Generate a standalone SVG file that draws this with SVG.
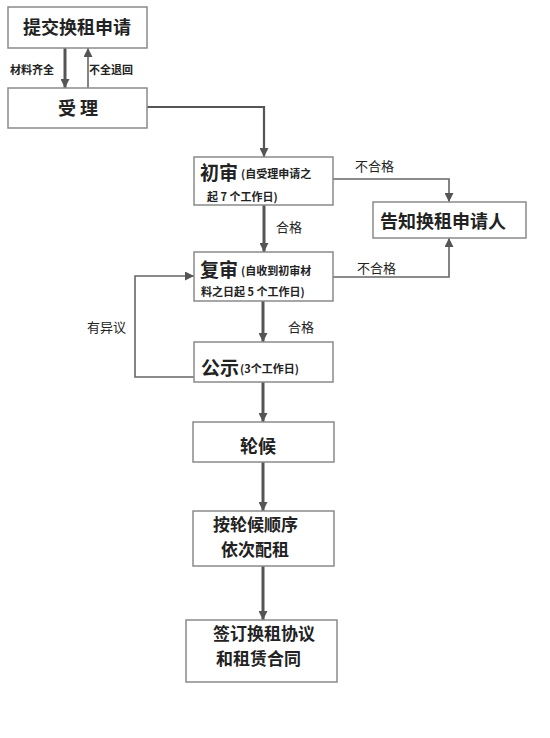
<svg xmlns="http://www.w3.org/2000/svg" width="550" height="738" viewBox="0 0 550 738">
<style>
.box{fill:#fff;stroke:#8a8a8a;stroke-width:1.5}
.t{font-family:"Noto Sans CJK SC",sans-serif;font-weight:bold;fill:#222}
.big{font-size:18px}
.two{font-size:17px}
.sm{font-size:11px}
.lab{font-family:"Noto Sans CJK SC",sans-serif;fill:#222;font-size:13px}
.thick{fill:none;stroke:#555;stroke-width:3}
.thin{fill:none;stroke:#666;stroke-width:1.6}
</style>
<defs>
<marker id="ah" viewBox="0 0 10 10" refX="10" refY="5" markerWidth="9" markerHeight="9" markerUnits="userSpaceOnUse" orient="auto">
<path d="M0,0 L10,5 L0,10 z" fill="#555"/>
</marker>
</defs>
<rect width="550" height="738" fill="#fff"/>
<g id="connectors">
<line class="thick" x1="65" y1="48" x2="65" y2="88" marker-end="url(#ah)"/>
<line class="thin" x1="88" y1="88" x2="88" y2="48" marker-end="url(#ah)"/>
<polyline class="thick" style="stroke-width:2.2" points="147,107 264,107 264,157" marker-end="url(#ah)"/>
<polyline class="thin" points="333,179 449,179 449,202" marker-end="url(#ah)"/>
<line class="thick" x1="264" y1="205" x2="264" y2="252" marker-end="url(#ah)"/>
<polyline class="thin" points="333,277 449,277 449,238" marker-end="url(#ah)"/>
<line class="thick" x1="263" y1="301" x2="263" y2="342" marker-end="url(#ah)"/>
<polyline class="thin" points="194,377 135,377 135,276 194,276" marker-end="url(#ah)"/>
<line class="thick" x1="263" y1="382" x2="263" y2="422" marker-end="url(#ah)"/>
<line class="thick" x1="263" y1="462" x2="263" y2="511" marker-end="url(#ah)"/>
<line class="thick" x1="263" y1="566" x2="263" y2="620" marker-end="url(#ah)"/>
<text class="lab" style="font-size:11px;font-weight:bold" x="10" y="74">材料齐全</text>
<text class="lab" style="font-size:11px;font-weight:bold" x="89" y="74">不全退回</text>
<text class="lab" x="355" y="171">不合格</text>
<text class="lab" x="276" y="232">合格</text>
<text class="lab" x="357" y="273">不合格</text>
<text class="lab" x="288" y="332">合格</text>
<text class="lab" x="87" y="332">有异议</text>
</g>
<g id="n1">
<rect class="box" x="8" y="7" width="139" height="41"/>
<text class="t big" x="77" y="34" text-anchor="middle">提交换租申请</text>
</g>
<g id="n2">
<rect class="box" x="8" y="88" width="139" height="40"/>
<text class="t big" x="78" y="115" text-anchor="middle">受 理</text>
</g>
<g id="n3">
<rect class="box" x="194" y="157" width="139" height="48"/>
<text class="t" style="font-size:19px" x="200" y="180">初审</text>
<text class="t sm" x="241" y="178">(自受理申请之</text>
<text class="t sm" x="207" y="201">起 7 个工作日)</text>
</g>
<g id="n4">
<rect class="box" x="373" y="202" width="153" height="36"/>
<text class="t big" x="380" y="228">告知换租申请人</text>
</g>
<g id="n5">
<rect class="box" x="194" y="252" width="139" height="49"/>
<text class="t" style="font-size:19px" x="200" y="277">复审</text>
<text class="t sm" x="241" y="275">(自收到初审材</text>
<text class="t sm" x="201" y="296">料之日起 5 个工作日)</text>
</g>
<g id="n6">
<rect class="box" x="194" y="342" width="139" height="40"/>
<text class="t" style="font-size:19px" x="201" y="375">公示</text>
<text class="t sm" x="240" y="373">(3个工作日)</text>
</g>
<g id="n7">
<rect class="box" x="193" y="422" width="141" height="40"/>
<text class="t big" x="258" y="453" text-anchor="middle">轮候</text>
</g>
<g id="n8">
<rect class="box" x="193" y="511" width="141" height="55"/>
<text class="t two" x="213" y="531">按轮候顺序</text>
<text class="t two" x="221" y="556">依次配租</text>
</g>
<g id="n9">
<rect class="box" x="186" y="620" width="151" height="62"/>
<text class="t two" x="213" y="640">签订换租协议</text>
<text class="t two" x="216" y="665">和租赁合同</text>
</g>
</svg>
